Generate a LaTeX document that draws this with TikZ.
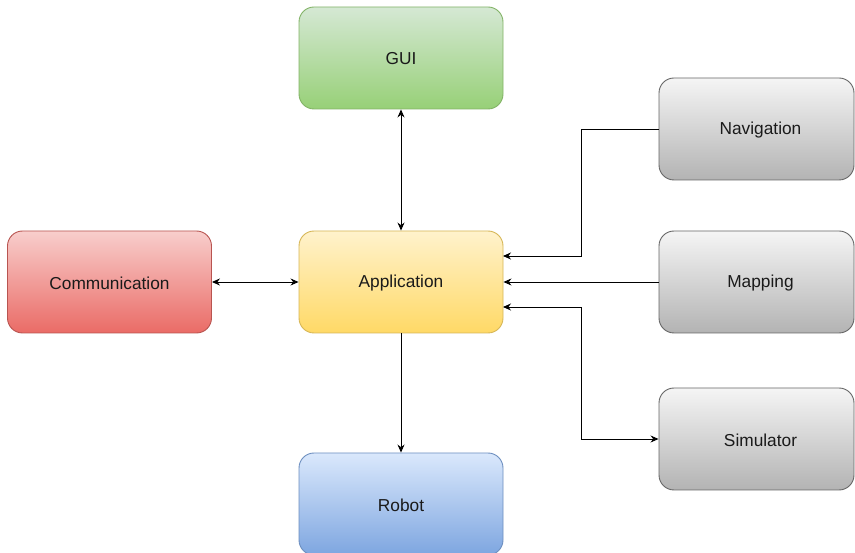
\documentclass[tikz,border=0pt]{standalone}
\usepackage{fontspec}
\setmainfont{Liberation Sans}
\usetikzlibrary{arrows.meta}
\definecolor{gTop}{HTML}{D5E8D4}\definecolor{gBot}{HTML}{97D077}\definecolor{gLine}{HTML}{82B366}
\definecolor{rTop}{HTML}{F8CECC}\definecolor{rBot}{HTML}{EA6B66}\definecolor{rLine}{HTML}{B85450}
\definecolor{yTop}{HTML}{FFF2CC}\definecolor{yBot}{HTML}{FFD966}\definecolor{yLine}{HTML}{D6B656}
\definecolor{bTop}{HTML}{DAE8FC}\definecolor{bBot}{HTML}{7EA6E0}\definecolor{bLine}{HTML}{6C8EBF}
\definecolor{sTop}{HTML}{F5F5F5}\definecolor{sBot}{HTML}{B3B3B3}\definecolor{sLine}{HTML}{666666}
\definecolor{txt}{HTML}{1A1A1A}
\tikzset{
  block/.style={rectangle, rounded corners=15pt, line width=0.9pt, minimum width=204pt, minimum height=102pt, inner sep=0pt},
  blockside/.style={block, minimum width=195pt},
  lbl/.style={font=\fontsize{17.3}{20}\selectfont, text=txt, inner sep=0pt, yshift=-1pt},
  sidelbl/.style={lbl, xshift=4pt},
  gbox/.style={draw=gLine, top color=gTop, bottom color=gBot},
  rbox/.style={draw=rLine, top color=rTop, bottom color=rBot},
  ybox/.style={draw=yLine, top color=yTop, bottom color=yBot},
  bbox/.style={draw=bLine, top color=bTop, bottom color=bBot},
  sbox/.style={draw=sLine, top color=sTop, bottom color=sBot},
  conn/.style={line width=0.9pt, draw=black},
  tip/.tip={Stealth[length=8pt,width=7pt]}
}
\begin{document}
\begin{tikzpicture}[x=1pt,y=-1pt]
\useasboundingbox (0,0) rectangle (855,553);
\node[block,gbox] (gui) at (401,58) {};
\node[block,ybox] (app) at (401,282) {};
\node[block,rbox] (comm) at (109.5,282) {};
\node[block,bbox] (robot) at (401,504) {};
\node[blockside,sbox] (nav) at (756.5,129) {};
\node[blockside,sbox] (map) at (756.5,282) {};
\node[blockside,sbox] (sim) at (756.5,439) {};
\node[lbl] (guiT) at (gui) {GUI};
\node[lbl] (appT) at (app) {Application};
\node[lbl] (commT) at (comm) {Communication};
\node[lbl] (robotT) at (robot) {Robot};
\node[sidelbl] (navT) at (nav) {Navigation};
\node[sidelbl] (mapT) at (map) {Mapping};
\node[sidelbl] (simT) at (sim) {Simulator};
\coordinate (appN) at (503,256);
\coordinate (appS) at (503,307);
\draw[conn,{tip}-{tip}] (gui.south) -- (app.north);
\draw[conn,{tip}-{tip}] (comm.east) -- (app.west);
\draw[conn,-{tip}] (app.south) -- (robot.north);
\draw[conn,-{tip}] (nav.west) -- (581,129) -- (581,256) -- (appN);
\draw[conn,-{tip}] (map.west) -- (app.east);
\draw[conn,{tip}-{tip}] (appS) -- (581,307) -- (581,439) -- (sim.west);
\end{tikzpicture}
\end{document}
